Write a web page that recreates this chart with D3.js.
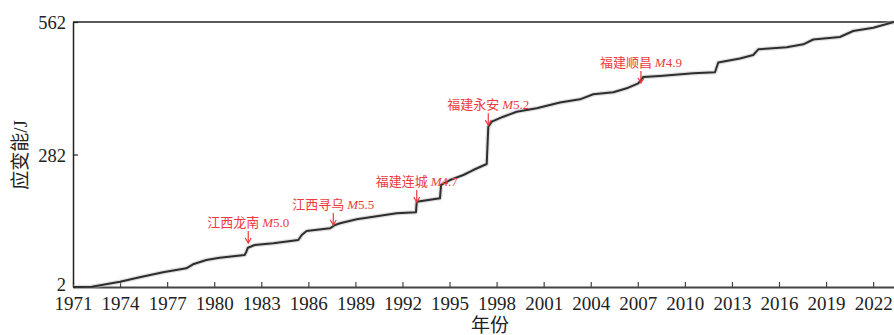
<!DOCTYPE html>
<html>
<head>
<meta charset="utf-8">
<script src="https://cdn.jsdelivr.net/npm/d3@7"></script>
<style>
  html, body { margin: 0; padding: 0; background: #fff; }
  svg { display: block; }
</style>
</head>
<body>
<svg id="chart" width="894" height="335"></svg>
<script>
// Cumulative strain energy curve (year, value)
const years = [1971.0, 1972.2, 1974.0, 1975.25, 1976.74, 1978.22, 1978.65, 1979.5, 1980.35, 1981.94,
  1982.05, 1982.15, 1982.58, 1983.77, 1985.36, 1985.58, 1985.89, 1987.38, 1987.7, 1988.02,
  1989.08, 1990.14, 1991.63, 1992.86, 1992.91, 1994.39, 1994.46, 1995.03, 1995.88, 1996.51,
  1997.37, 1997.47, 1997.69, 1998.43, 1999.28, 2000.55, 2002.04, 2003.31, 2004.16, 2005.44,
  2006.29, 2007.03, 2007.35, 2008.41, 2010.53, 2011.92, 2012.13, 2013.51, 2014.36, 2014.68,
  2016.49, 2017.55, 2018.18, 2019.88, 2020.73, 2022.01, 2023.33];
const energy = [2.0, 2.5, 13.2, 22.5, 33.1, 41.5, 50.0, 59.1, 63.9, 69.6,
  76.6, 85.0, 90.8, 94.3, 101.3, 111.9, 120.3, 126.0, 133.0, 136.6,
  145.1, 150.6, 157.7, 159.9, 182.3, 189.4, 217.6, 228.1, 238.7, 249.2,
  261.9, 340.7, 351.3, 361.9, 372.4, 379.6, 391.9, 398.6, 409.2, 413.4,
  421.9, 432.4, 445.8, 447.9, 453.6, 455.9, 476.4, 484.9, 492.3, 504.3,
  508.5, 514.9, 525.0, 530.3, 543.0, 550.0, 562.0];

// Marked earthquakes
const eventPlaces = ["江西龙南", "江西寻乌", "福建连城", "福建永安", "福建顺昌"];
const eventMags = ["5.0", "5.5", "4.7", "5.2", "4.9"];
const eventYears = [1982.17, 1987.59, 1992.91, 1997.47, 2007.2];
const eventValues = [95, 133, 181.6, 344, 433];

// Axis ticks
const yTicks = [2, 282, 562];
const xTicks = d3.range(1971, 2023, 3);

const svg = d3.select("#chart");
const m = { left: 73, right: 894, top: 22, bottom: 287 };

const x = d3.scaleLinear().domain([1971, 2023.33]).range([m.left, m.right]);
const y = d3.scaleLinear().domain([2, 562]).range([m.bottom, m.top]);

const serif = "'Liberation Serif', 'Times New Roman', 'Noto Sans CJK SC', serif";
const red = "#ec3a40";

// Top frame line
svg.append("line")
  .attr("x1", m.left).attr("x2", m.right)
  .attr("y1", m.top).attr("y2", m.top)
  .attr("stroke", "#222").attr("stroke-width", 1.5);

// Bottom axis
const xAxis = svg.append("g")
  .attr("transform", `translate(0,${m.bottom})`)
  .call(d3.axisBottom(x).tickValues(xTicks).tickFormat(d3.format("d"))
    .tickSizeInner(-5).tickSizeOuter(0).tickPadding(9));
xAxis.select(".domain").attr("stroke", "#444").attr("stroke-width", 2.2);
xAxis.selectAll(".tick line").attr("stroke", "#444").attr("stroke-width", 1.2);
xAxis.selectAll("text").attr("font-family", serif).attr("font-size", 19).attr("fill", "#222")
  .attr("dy", "0.74em");

// Left axis
const yAxis = svg.append("g")
  .attr("transform", `translate(${m.left},0)`)
  .call(d3.axisLeft(y).tickValues(yTicks).tickFormat(d3.format("d"))
    .tickSizeInner(-5).tickSizeOuter(0).tickPadding(7));
yAxis.select(".domain").attr("stroke", "#222").attr("stroke-width", 1.5);
yAxis.selectAll(".tick line").attr("stroke", "#222").attr("stroke-width", 1.2);
yAxis.selectAll("text").attr("font-family", serif).attr("font-size", 18.5).attr("fill", "#222")
  .attr("dy", d => d === yTicks[0] ? "0.18em" : "0.36em");

// Axis titles
svg.append("text")
  .attr("x", 490).attr("y", 332)
  .attr("text-anchor", "middle")
  .attr("font-family", serif).attr("font-size", 19).attr("fill", "#222")
  .text("年份");

svg.append("text")
  .attr("transform", "translate(27,155) rotate(-90)")
  .attr("text-anchor", "middle")
  .attr("font-family", serif).attr("font-size", 19).attr("fill", "#222")
  .text("应变能/J");

// Curve
const pts = years.map((d, i) => [d, energy[i]]);
const line = d3.line().x(d => x(d[0])).y(d => y(d[1]));

svg.append("path")
  .datum(pts)
  .attr("d", line)
  .attr("fill", "none")
  .attr("stroke", "#bbb")
  .attr("stroke-opacity", 0.45)
  .attr("stroke-width", 4.5)
  .attr("stroke-linejoin", "round");

svg.append("path")
  .datum(pts)
  .attr("d", line)
  .attr("fill", "none")
  .attr("stroke", "#2e2e2e")
  .attr("stroke-width", 2)
  .attr("stroke-linejoin", "round");

// Event labels with arrows
const ev = svg.append("g");
eventPlaces.forEach((name, i) => {
  const ax = x(eventYears[i]);
  const ay = y(eventValues[i]);
  const g = ev.append("g");
  g.append("line")
    .attr("x1", ax).attr("x2", ax)
    .attr("y1", ay - 12).attr("y2", ay)
    .attr("stroke", red).attr("stroke-width", 1.2);
  g.append("path")
    .attr("d", `M${ax - 3},${ay - 5} L${ax},${ay} L${ax + 3},${ay - 5}`)
    .attr("fill", "none").attr("stroke", red).attr("stroke-width", 1.2);
  const t = g.append("text")
    .attr("x", ax).attr("y", ay - 16)
    .attr("text-anchor", "middle")
    .attr("font-family", serif).attr("font-size", 13).attr("fill", red);
  t.append("tspan").attr("font-family", "'Noto Sans CJK SC', sans-serif").text(name + " ");
  t.append("tspan").attr("font-style", "italic").text("M");
  t.append("tspan").text(eventMags[i]);
});
</script>
</body>
</html>
